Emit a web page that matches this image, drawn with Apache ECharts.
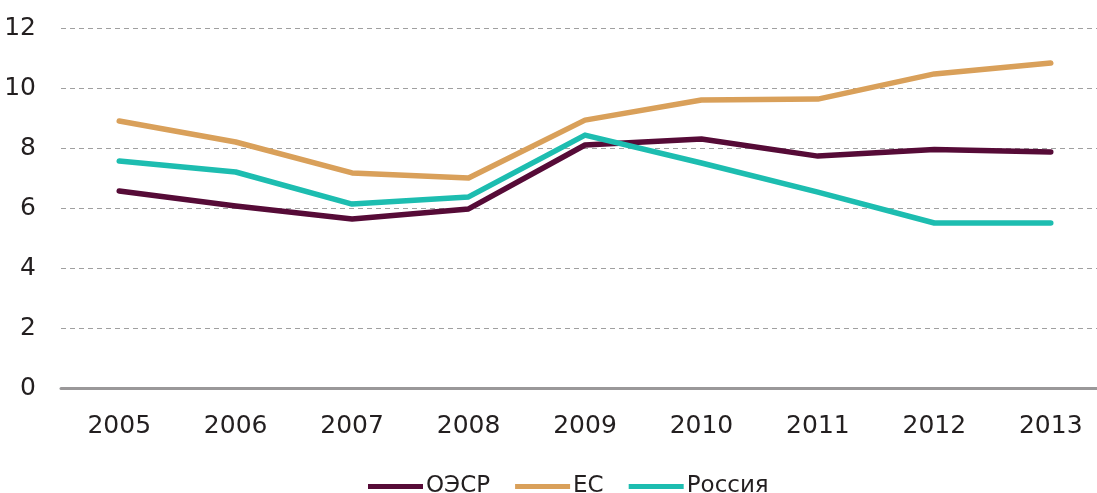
<!DOCTYPE html>
<html>
<head>
<meta charset="utf-8">
<script src="https://cdn.jsdelivr.net/npm/echarts@6/dist/echarts.min.js"></script>
<style>
  html, body { margin: 0; padding: 0; background: #fff; overflow: hidden; }
  #chart { width: 1109px; height: 493px; }
</style>
</head>
<body>
<div id="chart"></div>
<script>
const years = ['2005', '2006', '2007', '2008', '2009', '2010', '2011', '2012', '2013']
const oecd = [6.57, 6.07, 5.63, 5.97, 8.1, 8.3, 7.73, 7.95, 7.87]
const eu = [8.9, 8.2, 7.17, 7.0, 8.93, 9.6, 9.63, 10.47, 10.83]
const russia = [7.57, 7.2, 6.13, 6.37, 8.43, 7.5, 6.53, 5.5, 5.5]

const font = 'DejaVu Sans'
const textColor = '#231f20'

// the plot runs a little past the right edge of the window, as in the original
const chart = echarts.init(document.getElementById('chart'), null, { renderer: 'canvas' })

function line(name, data, color) {
  return {
    name,
    type: 'line',
    data,
    symbol: 'none',
    lineStyle: { color, width: 5.5, cap: 'round', join: 'round' },
    itemStyle: { color }
  }
}

chart.setOption({
  animation: false,
  textStyle: { fontFamily: font },
  grid: { left: 61, top: 28, right: 0, height: 360, containLabel: false },
  legend: {
    bottom: -10,
    left: 363,
    icon: 'rect',
    itemWidth: 55,
    itemHeight: 5,
    itemGap: 25,
    textStyle: { fontFamily: font, fontSize: 23, color: textColor, padding: [0, 0, 0, -2] },
    data: ['ОЭСР', 'ЕС', 'Россия']
  },
  xAxis: {
    type: 'category',
    data: years,
    boundaryGap: true,
    axisLine: { lineStyle: { color: '#9a9899', width: 3 } },
    axisTick: { show: false },
    axisLabel: { fontFamily: font, fontSize: 25, color: textColor, margin: 26 }
  },
  yAxis: {
    type: 'value',
    min: 0,
    max: 12,
    interval: 2,
    axisLine: { show: false },
    axisTick: { show: false },
    axisLabel: { fontFamily: font, fontSize: 25, color: textColor, margin: 25 },
    splitLine: { lineStyle: { color: '#a0a0a0', type: [5, 4], width: 1 } }
  },
  series: [
    line('ОЭСР', oecd, '#560b37'),
    line('ЕС', eu, '#d9a05a'),
    line('Россия', russia, '#1dbdb0')
  ]
})
</script>
</body>
</html>
